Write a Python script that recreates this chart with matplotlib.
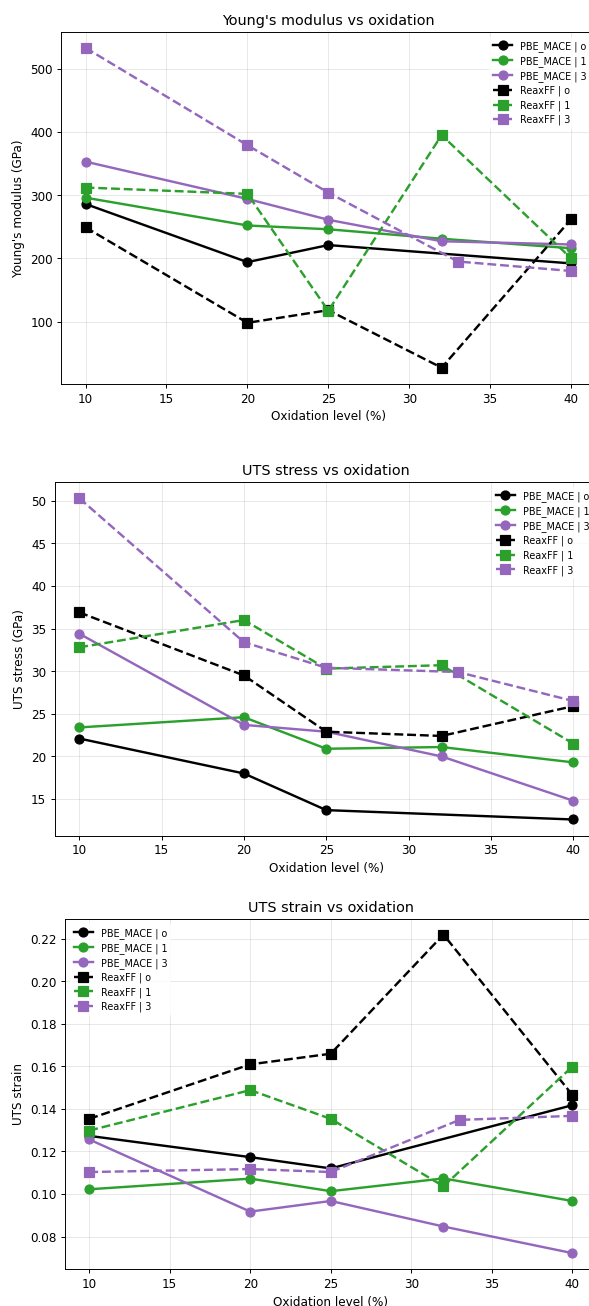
import matplotlib
matplotlib.use('Agg')
import matplotlib.pyplot as plt

# oxidation levels (%)
x_pbe_o = [10, 20, 25, 40]
x_pbe = [10, 20, 25, 32, 40]
x_reax = [10, 20, 25, 32, 40]
x_reax_3 = [10, 20, 25, 33, 40]

# Young's modulus (GPa)
ym_pbe_o = [286, 194, 221, 192]
ym_pbe_1 = [296, 252, 246, 231, 216]
ym_pbe_3 = [353, 294, 261, 227, 222]
ym_reax_o = [249, 98, 118, 27, 262]
ym_reax_1 = [312, 302, 117, 395, 200]
ym_reax_3 = [533, 379, 304, 195, 180]

# UTS stress (GPa)
st_pbe_o = [22.1, 18.0, 13.7, 12.6]
st_pbe_1 = [23.4, 24.6, 20.9, 21.1, 19.3]
st_pbe_3 = [34.4, 23.7, 22.9, 20.0, 14.8]
st_reax_o = [36.9, 29.5, 22.9, 22.4, 25.9]
st_reax_1 = [32.8, 36.0, 30.3, 30.7, 21.5]
st_reax_3 = [50.3, 33.4, 30.4, 29.9, 26.5]

# UTS strain
sn_pbe_o = [0.1273, 0.1173, 0.1120, 0.1417]
sn_pbe_1 = [0.1022, 0.1072, 0.1013, 0.1073, 0.0967]
sn_pbe_3 = [0.1256, 0.0917, 0.0967, 0.0847, 0.0722]
sn_reax_o = [0.1353, 0.1609, 0.1659, 0.2219, 0.1466]
sn_reax_1 = [0.1298, 0.1488, 0.1353, 0.1036, 0.1598]
sn_reax_3 = [0.1103, 0.1117, 0.1103, 0.1348, 0.1367]

labels = ['PBE_MACE | o', 'PBE_MACE | 1', 'PBE_MACE | 3',
          'ReaxFF | o', 'ReaxFF | 1', 'ReaxFF | 3']
colors = ['black', '#2ca02c', '#9467bd']

DPI = 86.6
fig = plt.figure(figsize=(589.4 / DPI, 1306.4 / DPI), dpi=DPI)


def draw(ax, pbe, reax, title, ylabel, legend_loc):
    xs_pbe = [x_pbe_o, x_pbe, x_pbe]
    xs_reax = [x_reax, x_reax, x_reax_3]
    for i in range(3):
        ax.plot(xs_pbe[i], pbe[i], '-o', color=colors[i], lw=2, ms=7.5,
                label=labels[i])
    for i in range(3):
        ax.plot(xs_reax[i], reax[i], '--s', color=colors[i], lw=2, ms=7.5,
                label=labels[i + 3])
    ax.set_title(title, fontsize=12)
    ax.set_xlabel('Oxidation level (%)', fontsize=10)
    ax.set_ylabel(ylabel, fontsize=10)
    ax.grid(True, alpha=0.3)
    ax.legend(loc=legend_loc, fontsize=8, framealpha=0.8, edgecolor='none',
              labelspacing=0.42)


ax1 = fig.add_axes([0.1039, 0.7060, 0.9063, 0.2693])
draw(ax1, [ym_pbe_o, ym_pbe_1, ym_pbe_3], [ym_reax_o, ym_reax_1, ym_reax_3],
     "Young's modulus vs oxidation", "Young's modulus (GPa)", 'upper right')

ax2 = fig.add_axes([0.0925, 0.3601, 0.9221, 0.2706])
draw(ax2, [st_pbe_o, st_pbe_1, st_pbe_3], [st_reax_o, st_reax_1, st_reax_3],
     'UTS stress vs oxidation', 'UTS stress (GPa)', 'upper right')

ax3 = fig.add_axes([0.1104, 0.0283, 0.9015, 0.2682])
draw(ax3, [sn_pbe_o, sn_pbe_1, sn_pbe_3], [sn_reax_o, sn_reax_1, sn_reax_3],
     'UTS strain vs oxidation', 'UTS strain', 'upper left')

fig.savefig('out.png', dpi=DPI)
